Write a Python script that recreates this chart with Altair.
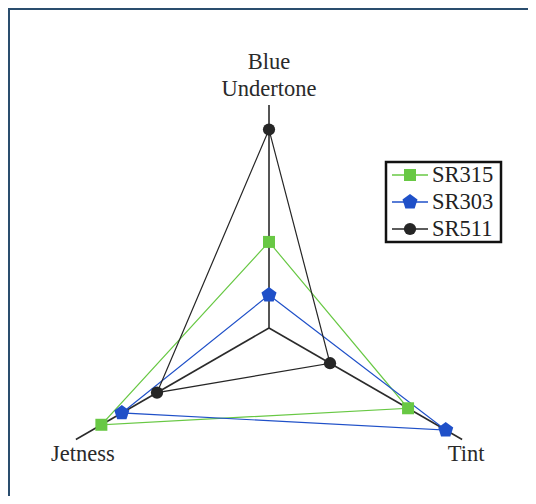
import altair as alt
import pandas as pd

# ---- data ----
axes = ["Blue Undertone", "Tint", "Jetness"]
axis_labels = ["Blue\nUndertone", "Tint", "Jetness"]
axis_angles = [90, -30, 210]
series = ["SR315", "SR303", "SR511"]
sr315 = [38.6, 72.0, 86.8]
sr303 = [14.8, 91.5, 76.2]
sr511 = [89.0, 31.6, 58.0]
colors = ["#68c844", "#1f50c8", "#262626"]
axis_max = 100

pentagon = "M0,-1L0.951,-0.309L0.588,0.809L-0.588,0.809L-0.951,-0.309Z"
shapes = ["square", pentagon, "circle"]
sizes = [144, 250, 150]

rows = []
for s, vals in zip(series, [sr315, sr303, sr511]):
    for i in range(4):
        k = i % 3
        rows.append({"series": s, "axis": axes[k], "angle": axis_angles[k],
                     "value": vals[k], "ord": i})
df = pd.DataFrame(rows)
axis_df = pd.DataFrame({"axis": axes, "label": axis_labels,
                        "angle": axis_angles, "value": [axis_max] * 3})

# ---- scales ----
xs = alt.Scale(domain=[-117.04, 116.14], nice=False, zero=False)
ys = alt.Scale(domain=[-75.34, 143.50], nice=False, zero=False)
col = alt.Color("series:N", scale=alt.Scale(domain=series, range=colors), legend=None)
shp = alt.Shape("series:N", scale=alt.Scale(domain=series, range=shapes), legend=None)
siz = alt.Size("series:N", scale=alt.Scale(type="ordinal", domain=series, range=sizes),
               legend=None)

FONT = "Liberation Serif"

def polar(c):
    return c.transform_calculate(
        px="datum.value*cos(datum.angle*PI/180)",
        py="datum.value*sin(datum.angle*PI/180)",
        zx="0", zy="0",
    )

axis_lines = polar(alt.Chart(axis_df)).mark_rule(color="#2b2b2b", strokeWidth=1.6).encode(
    x=alt.X("zx:Q", scale=xs, axis=None), y=alt.Y("zy:Q", scale=ys, axis=None),
    x2="px:Q", y2="py:Q",
)

lines = polar(alt.Chart(df)).mark_line(strokeWidth=1.2).encode(
    x=alt.X("px:Q", scale=xs, axis=None), y=alt.Y("py:Q", scale=ys, axis=None),
    color=col, detail="series:N", order="ord:Q",
)

points = polar(alt.Chart(df).transform_filter("datum.ord < 3")).mark_point(
    filled=True, opacity=1, strokeWidth=0).encode(
    x=alt.X("px:Q", scale=xs, axis=None), y=alt.Y("py:Q", scale=ys, axis=None),
    color=col, shape=shp, size=siz,
)

def label_layer(name, **kw):
    return polar(alt.Chart(axis_df).transform_filter(f"datum.axis == '{name}'")).mark_text(
        font=FONT, fontSize=22.5, color="#2a2a2a", lineBreak="\n", lineHeight=27, **kw
    ).encode(
        x=alt.X("px:Q", scale=xs, axis=None), y=alt.Y("py:Q", scale=ys, axis=None),
        text="label:N",
    )

lab_top = label_layer("Blue Undertone", align="center", baseline="bottom", dy=-31)
lab_tint = label_layer("Tint", align="center", baseline="middle", dx=4, dy=15)
lab_jet = label_layer("Jetness", align="center", baseline="middle", dx=7, dy=15)

# ---- legend ----
one = pd.DataFrame({"a": [0]})
legend_box = alt.Chart(one).mark_rect(fill="white", stroke="#111", strokeWidth=2.5).encode(
    x=alt.value(378), x2=alt.value(493), y=alt.value(154), y2=alt.value(234)
)
legend_layers = [legend_box]
for i, s in enumerate(series):
    d = pd.DataFrame({"series": [s]})
    yv = 167 + 27 * i
    legend_layers.append(alt.Chart(d).mark_rule(strokeWidth=1.3).encode(
        x=alt.value(384), x2=alt.value(420), y=alt.value(yv), color=col))
    legend_layers.append(alt.Chart(d).mark_point(filled=True, opacity=1, strokeWidth=0).encode(
        x=alt.value(402), y=alt.value(yv), color=col, shape=shp, size=siz))
    legend_layers.append(alt.Chart(d).mark_text(
        font=FONT, fontSize=22.5, color="#222", align="left", baseline="middle").encode(
        x=alt.value(424), y=alt.value(yv), text="series:N"))

# frame border
frame_top = alt.Chart(one).mark_rule(color="#2a4d6e", strokeWidth=2).encode(
    x=alt.value(0), x2=alt.value(520), y=alt.value(1))
frame_left = alt.Chart(one).mark_rule(color="#2a4d6e", strokeWidth=2).encode(
    x=alt.value(1), y=alt.value(0), y2=alt.value(488))

chart = alt.layer(
    axis_lines, lines, points, lab_top, lab_tint, lab_jet, *legend_layers,
    frame_top, frame_left,
).properties(
    width=520, height=488, padding=0, autosize="none", background="white"
).configure_view(stroke=None)

chart.save("out.html", embed_options={"renderer": "svg", "actions": False})
